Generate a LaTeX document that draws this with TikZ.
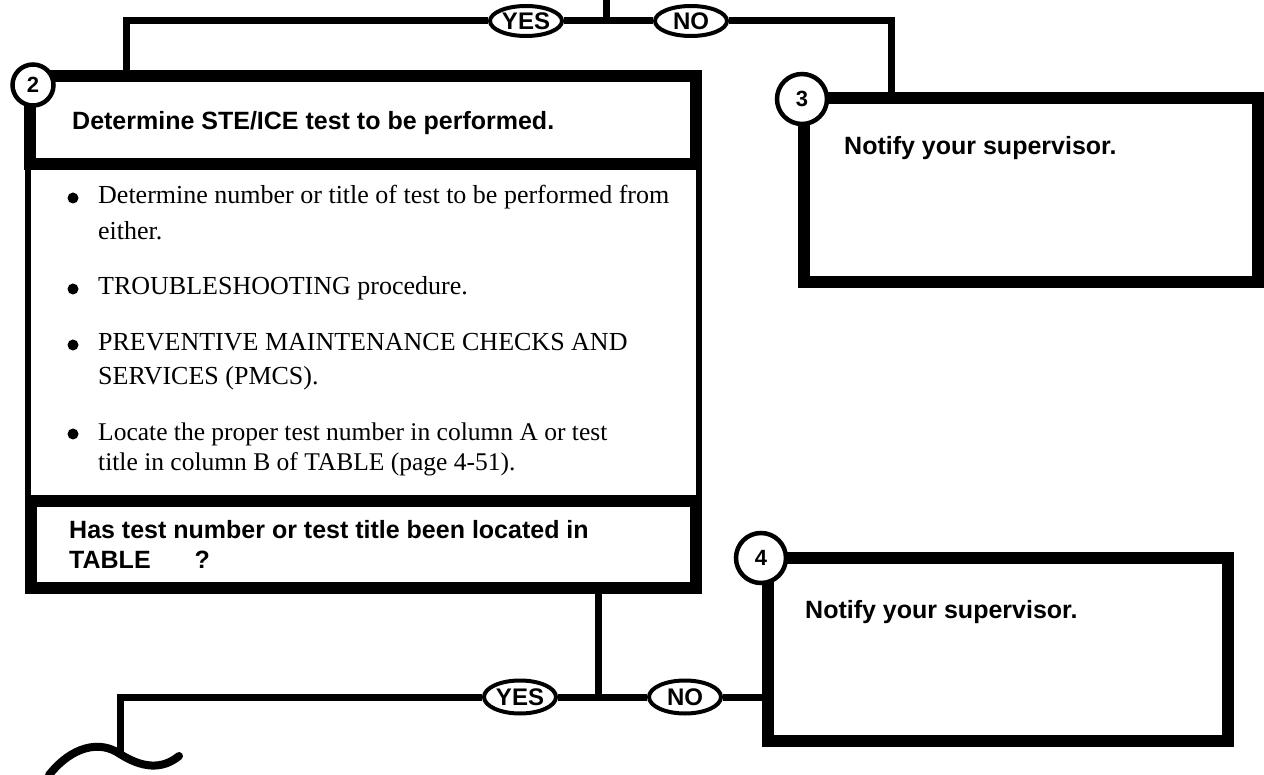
\documentclass[tikz,border=0pt]{standalone}
\usepackage{fontspec}
\setmainfont{Liberation Serif}
\setsansfont{Liberation Sans}
\usetikzlibrary{shapes.geometric}

\begin{document}
\begin{tikzpicture}[x=1pt,y=-1pt,
  frame/.style={rectangle,draw=black,line width=12pt,inner sep=0pt},
  thinframe/.style={rectangle,draw=black,line width=6pt,inner sep=0pt},
  num/.style={circle,draw=black,fill=white,line width=4.5pt,minimum size=50pt,inner sep=0pt,font=\fontsize{22}{22}\selectfont\sffamily\bfseries},
  yn/.style={ellipse,draw=black,fill=white,line width=4pt,minimum width=72pt,minimum height=30pt,inner sep=0pt,font=\fontsize{24}{24}\selectfont\sffamily\bfseries},
  head/.style={anchor=base west,inner sep=0pt,font=\fontsize{25}{30}\selectfont\sffamily\bfseries},
  body/.style={anchor=base west,inner sep=0pt,font=\fontsize{26}{30}\selectfont},
  dot/.style={circle,fill=black,minimum size=11pt,inner sep=0pt},
  wire/.style={draw=black,line width=7pt}]
  \useasboundingbox (0,0) rectangle (1264,775);
  % Step 2: body, then header and question bands on top.
  \node[thinframe,minimum width=671pt,minimum height=512pt] (body2) at (363.5,332) {};
  \node[frame,minimum width=666pt,minimum height=88pt] (head2) at (363,120) {};
  \node[frame,minimum width=665pt,minimum height=87pt] (ask2) at (363.5,544.5) {};
  % Steps 3 and 4.
  \node[frame,minimum width=454pt,minimum height=184pt] (box3) at (1031,190) {};
  \node[frame,minimum width=460pt,minimum height=183pt] (box4) at (998,649.5) {};
  \node[num,minimum size=41pt] (c2) at (33,85) {2};
  \node[num] (c3) at (802,99) {3};
  \node[num] (c4) at (761,558) {4};
  % Texts.
  \node[head] (h2) at (72,130) {Determine STE/ICE test to be performed.};
  \foreach \y/\t [count=\i] in {204/{Determine number or title of test to be performed from},
      240/{either.},295/{TROUBLESHOOTING procedure.},
      351/{PREVENTIVE MAINTENANCE CHECKS AND},385/{SERVICES (PMCS).}}
    \node[body] (ln\i) at (98,\y) {\t};
  \node[body,font=\fontsize{25.5}{28}\selectfont] (ln6) at (98,440) {Locate the proper test number in column A or test};
  \node[body,font=\fontsize{25.5}{28}\selectfont] (ln7) at (98,470) {title in column B of TABLE (page 4-51).};
  \foreach \y [count=\i] in {198,289,345,434}
    \node[dot] (dot\i) at (73,\y) {};
  \node[head] (q2a) at (69,538) {Has test number or test title been located in};
  \node[head] (q2b) at (69,568) {TABLE\hspace*{44pt}?};
  \node[head] (t3) at (844,155) {Notify your supervisor.};
  \node[head] (t4) at (805,618) {Notify your supervisor.};
  % Decisions.
  \node[yn] (yes1) at (526,21) {YES};
  \node[yn] (no1) at (691,21) {NO};
  \node[yn,minimum height=33pt] (yes2) at (520,697) {YES};
  \node[yn,minimum height=33pt] (no2) at (685,697) {NO};
  \coordinate (tin) at (606,0);
  \coordinate (tj) at (606,21);
  \coordinate (in2) at (126,70);
  \coordinate (in3) at (891,92);
  \draw[wire] (tin) -- (tj);
  \draw[wire] (yes1) -- (no1);
  \draw[wire] (yes1) -| (in2);
  \draw[wire] (no1) -| (in3);
  \coordinate (out2) at (598,593);
  \coordinate (bj) at (598,697);
  \coordinate (in4) at (762,697);
  \coordinate (brk) at (120,754);
  \draw[wire] (out2) -- (bj);
  \draw[wire] (yes2) -- (no2);
  \draw[wire] (no2) -- (in4);
  \draw[wire] (yes2) -| (brk);
  % Break mark.
  \coordinate (w0) at (49,775);
  \coordinate (w1) at (179,756);
  \draw[wire,line width=8pt,line cap=round] (w0) .. controls (72,746) and (100,740) .. (brk)
    .. controls (142,768) and (162,770) .. (w1);
\end{tikzpicture}
\end{document}
